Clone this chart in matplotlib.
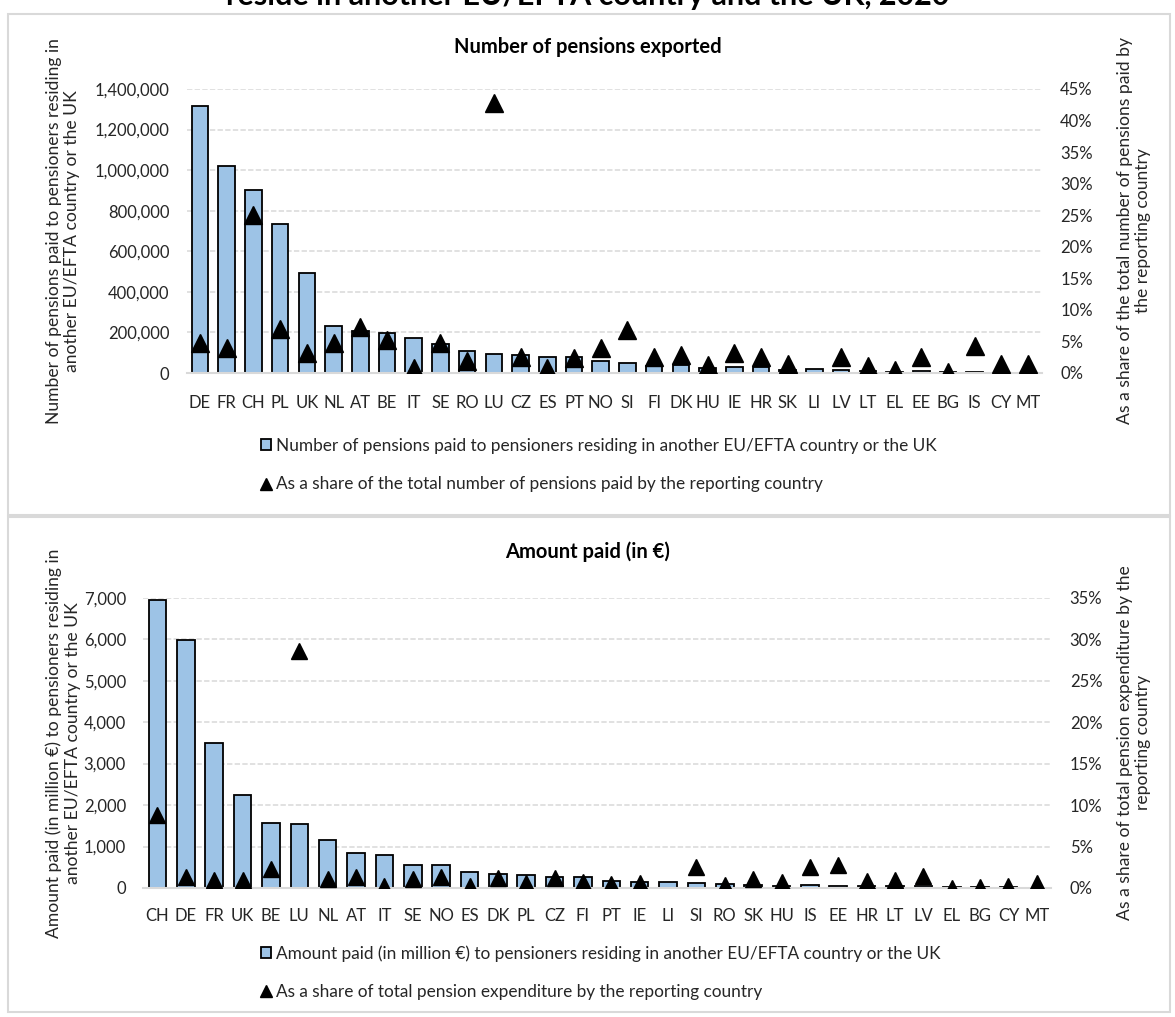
import numpy as np
import matplotlib.pyplot as plt
from matplotlib.patches import Patch, Rectangle
from matplotlib.lines import Line2D
from matplotlib.ticker import FuncFormatter, MultipleLocator

plt.rcParams['font.family'] = ['Lato', 'DejaVu Sans']

# number of pensions exported, by reporting country
num_countries = ['DE', 'FR', 'CH', 'PL', 'UK', 'NL', 'AT', 'BE', 'IT', 'SE', 'RO', 'LU', 'CZ', 'ES', 'PT', 'NO',
                 'SI', 'FI', 'DK', 'HU', 'IE', 'HR', 'SK', 'LI', 'LV', 'LT', 'EL', 'EE', 'BG', 'IS', 'CY', 'MT']
num_pensions = [1317000, 1020000, 902000, 734000, 491000, 232000, 205000, 198000, 171000, 143000, 108000, 94000,
                90000, 80000, 77000, 61000, 49000, 35000, 38000, 25000, 31000, 30000, 15000, 20000, 15000, 10000,
                7000, 12000, 3000, 3000, 2000, 2000]
num_share = [4.7, 4.0, 25.0, 7.0, 3.1, 4.75, 7.3, 5.3, 0.85, 4.8, 1.9, 42.8, 2.5, 0.8, 2.3, 4.0,
             6.8, 2.5, 2.85, 1.25, 3.2, 2.6, 1.4, np.nan, 2.5, 1.1, 0.4, 2.5, 0.2, 4.3, 1.35, 1.5]

# amount paid (million EUR), by reporting country
amt_countries = ['CH', 'DE', 'FR', 'UK', 'BE', 'LU', 'NL', 'AT', 'IT', 'SE', 'NO', 'ES', 'DK', 'PL', 'CZ', 'FI',
                 'PT', 'IE', 'LI', 'SI', 'RO', 'SK', 'HU', 'IS', 'EE', 'HR', 'LT', 'LV', 'EL', 'BG', 'CY', 'MT']
amt_paid = [6940, 5990, 3495, 2250, 1560, 1535, 1157, 851, 795, 562, 547, 385, 330, 313, 270, 258,
            176, 145, 137, 113, 104, 72, 60, 65, 55, 45, 40, 48, 30, 20, 15, 10]
amt_share = [8.8, 1.3, 1.0, 0.95, 2.3, 28.6, 1.1, 1.3, 0.2, 1.05, 1.27, 0.2, 1.15, 0.57, 1.25, 0.72,
             0.5, 0.66, np.nan, 2.5, 0.42, 1.1, 0.72, 2.57, 2.74, 0.87, 0.97, 1.45, 0.05, 0.1, 0.26, 0.66]

BAR_COLOR = '#9DC3E6'
GRID_COLOR = '#D9D9D9'
TEXT_COLOR = '#262626'
W, H = 1175, 1017


def px_box(left, top, right, bottom):
    return [left / W, 1 - bottom / H, (right - left) / W, (bottom - top) / H]


def draw_panel(fig, box, countries, values, shares, ymax, ystep, smax, ms, ylab, slab, leg_labels,
               ylab_x, slab_x, leg_top, title, title_y, xpad):
    ax = fig.add_axes(box)
    x = np.arange(len(countries))
    ax.bar(x, values, width=0.62, color=BAR_COLOR, edgecolor='black', linewidth=1.3, zorder=2)
    ax.set_xlim(-0.5, len(countries) - 0.5)
    ax.set_ylim(0, ymax)
    ax.yaxis.set_major_locator(MultipleLocator(ystep))
    ax.yaxis.set_major_formatter(FuncFormatter(lambda v, p: f'{v:,.0f}'))
    ax.set_xticks(x, countries)
    ax.grid(axis='y', color=GRID_COLOR, lw=1.1, ls=(0, (3.5, 1.5)), zorder=0)
    for s in ['top', 'left', 'right']:
        ax.spines[s].set_visible(False)
    ax.spines['bottom'].set_color(GRID_COLOR)
    ax.spines['bottom'].set_linewidth(1.5)
    ax.tick_params(axis='both', length=0, labelsize=12, labelcolor=TEXT_COLOR)
    ax.tick_params(axis='y', pad=12.5)
    ax.tick_params(axis='x', pad=xpad)

    ax2 = ax.twinx()
    ax2.plot(x, np.array(shares) / 100, ls='none', marker='^', ms=ms, color='black', zorder=3)
    ax2.set_ylim(0, smax)
    ax2.yaxis.set_major_locator(MultipleLocator(0.05))
    ax2.yaxis.set_major_formatter(FuncFormatter(lambda v, p: f'{v * 100:.0f}%'))
    for s in ax2.spines.values():
        s.set_visible(False)
    ax2.tick_params(axis='y', length=0, labelsize=12, pad=13.5, labelcolor=TEXT_COLOR)

    yc = box[1] + box[3] / 2
    for lab, lx in [(ylab, ylab_x), (slab, slab_x)]:
        fig.text(lx / W, yc, lab, rotation=90, ha='center', va='center', fontsize=12.6,
                 multialignment='center', linespacing=1.2, color=TEXT_COLOR)
    fig.text(0.5, 1 - title_y / H, title, ha='center', va='center', fontsize=14.5, fontweight='bold')

    handles = [Patch(facecolor=BAR_COLOR, edgecolor='black', linewidth=1.3),
               Line2D([], [], ls='none', marker='^', ms=8, color='black')]
    ax.legend(handles, leg_labels, loc='upper left', bbox_to_anchor=(261 / W, 1 - leg_top / H),
              bbox_transform=fig.transFigure, frameon=False, fontsize=12.4, borderpad=0, borderaxespad=0,
              handlelength=0.6, handleheight=0.6, handletextpad=0.25, labelspacing=1.3,
              labelcolor=TEXT_COLOR)
    return ax


fig = plt.figure(figsize=(W / 100, H / 100), dpi=100)

# panel frames
fig.add_artist(Rectangle((8 / W, 1 - 515 / H), 1162 / W, 501 / H, transform=fig.transFigure,
                         fill=False, edgecolor=GRID_COLOR, lw=1.5))
fig.add_artist(Rectangle((8 / W, 1 - 1012 / H), 1162 / W, 495 / H, transform=fig.transFigure,
                         fill=False, edgecolor=GRID_COLOR, lw=1.5))

fig.text(0.5, 1 - 5 / H, 'reside in another EU/EFTA country and the UK, 2020', ha='center', va='baseline',
         fontsize=22, fontweight='bold')

draw_panel(fig, px_box(186.7, 89, 1041.5, 373), num_countries, num_pensions, num_share,
           1400000, 200000, 0.45, 13,
           'Number of pensions paid to pensioners residing in\nanother EU/EFTA country or the UK',
           'As a share of the total number of pensions paid by\nthe reporting country',
           ['Number of pensions paid to pensioners residing in another EU/EFTA country or the UK',
            'As a share of the total number of pensions paid by the reporting country'],
           63, 1134, 438, 'Number of pensions exported', 47, 16)

draw_panel(fig, px_box(143.3, 597.7, 1051, 888), amt_countries, amt_paid, amt_share,
           7000, 1000, 0.35, 11,
           'Amount paid (in million €) to pensioners residing in\nanother EU/EFTA country or the UK',
           'As a share of total pension expenditure by the\nreporting country',
           ['Amount paid (in million €) to pensioners residing in another EU/EFTA country or the UK',
            'As a share of total pension expenditure by the reporting country'],
           63, 1134, 945, 'Amount paid (in €)', 552, 14.5)

fig.savefig('out.png', dpi=100)
